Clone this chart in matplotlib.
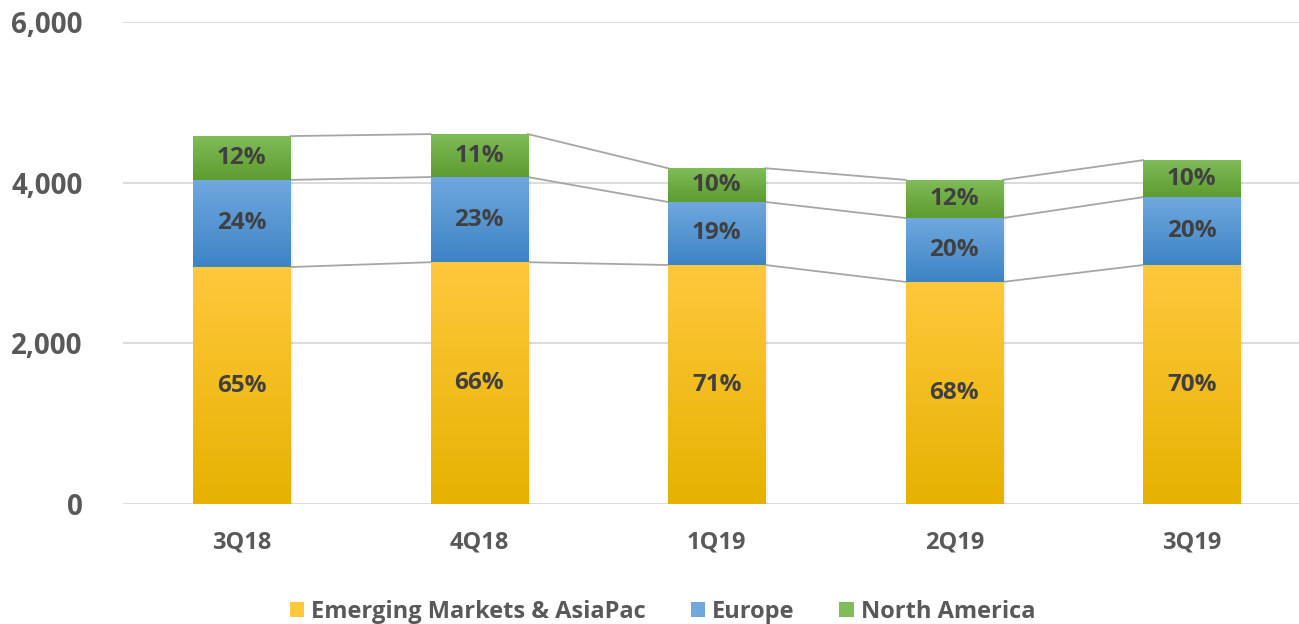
import numpy as np
import matplotlib
matplotlib.use("Agg")
import matplotlib.pyplot as plt
from matplotlib.colors import LinearSegmentedColormap
from matplotlib.patches import Patch

quarters = ["3Q18", "4Q18", "1Q19", "2Q19", "3Q19"]
emerging = [2950, 3010, 2975, 2765, 2975]
europe = [1085, 1060, 785, 795, 845]
north_america = [545, 535, 420, 475, 460]

emerging_pct = ["65%", "66%", "71%", "68%", "70%"]
europe_pct = ["24%", "23%", "19%", "20%", "20%"]
north_america_pct = ["12%", "11%", "10%", "12%", "10%"]

series = [
    ("Emerging Markets & AsiaPac", emerging, emerging_pct, "#FFC83D", "#E6B200"),
    ("Europe", europe, europe_pct, "#70A8DE", "#3D84C5"),
    ("North America", north_america, north_america_pct, "#80BC58", "#5D9C2F"),
]

plt.rcParams['font.family'] = ['Open Sans', 'DejaVu Sans']
plt.rcParams['font.weight'] = 'bold'

fig = plt.figure(figsize=(12.99, 6.24), dpi=100)
ax = fig.add_axes([0.0947, 0.1923, 0.905, 0.7724])

x = np.arange(len(quarters))
width = 0.41
bottom = np.zeros(len(quarters))
grad = np.linspace(0, 1, 256).reshape(-1, 1)

tops = []
for name, vals, pcts, c_top, c_bot in series:
    vals = np.array(vals, dtype=float)
    bars = ax.bar(x, vals, width, bottom=bottom, color=c_top, edgecolor="none", zorder=3)
    cmap = LinearSegmentedColormap.from_list(name, [c_top, c_bot])
    for rect, b, v, p in zip(bars, bottom, vals, pcts):
        x0 = rect.get_x()
        im = ax.imshow(grad, cmap=cmap, aspect="auto", zorder=3,
                       extent=[x0, x0 + width, b, b + v], origin="upper")
        im.set_clip_path(rect)
        # soft shadow
        ax.bar(rect.get_x() + width / 2 + 0.012, v, width, bottom=b - 12,
               color="#000000", alpha=0.06, edgecolor="none", zorder=2)
        ax.text(rect.get_x() + width / 2, b + v / 2, p, ha="center", va="center",
                fontsize=17.5, color="#404040", fontweight="bold", zorder=5)
    bottom = bottom + vals
    tops.append(bottom.copy())

# series lines between bars
for lvl in tops:
    for i in range(len(quarters) - 1):
        ax.plot([x[i] + width / 2, x[i + 1] - width / 2], [lvl[i], lvl[i + 1]],
                color="#A6A6A6", lw=1.3, zorder=2.5)

ax.set_xlim(-0.5, 4.45)
ax.set_ylim(0, 6000)
ax.set_yticks([0, 2000, 4000, 6000])
ax.set_yticklabels(["0", "2,000", "4,000", "6,000"])
ax.set_xticks(x)
ax.set_xticklabels(quarters)
ax.grid(axis="y", color="#D9D9D9", lw=1.3, zorder=0)
ax.set_axisbelow(True)
for s in ax.spines.values():
    s.set_visible(False)
ax.tick_params(axis="y", length=0, pad=29, labelsize=20, labelcolor="#595959")
ax.tick_params(axis="x", length=0, pad=19, labelsize=17, labelcolor="#595959")
for lbl in ax.get_yticklabels():
    lbl.set_fontweight("bold")
for lbl in ax.get_xticklabels():
    lbl.set_fontweight("bold")

handles = [Patch(facecolor=s[3], edgecolor="none", label=s[0]) for s in series]
leg = fig.legend(handles=handles, loc="center", bbox_to_anchor=(0.51, 0.02),
                 ncol=3, frameon=False, fontsize=17, handlelength=0.6, handleheight=0.6,
                 handletextpad=0.3, columnspacing=1.9)
for t in leg.get_texts():
    t.set_color("#595959")
    t.set_fontweight("bold")

fig.savefig("out.png", dpi=100)
